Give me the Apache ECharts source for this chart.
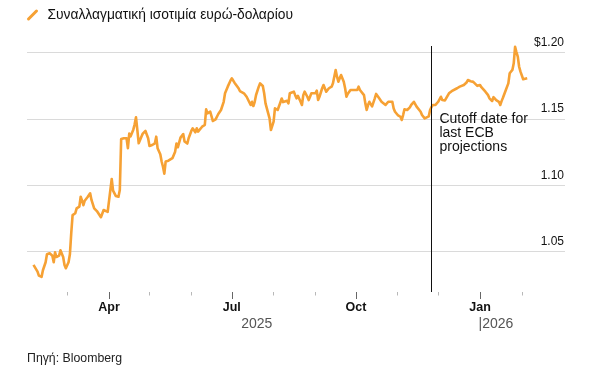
<!DOCTYPE html>
<html><head><meta charset="utf-8">
<script src="https://cdn.jsdelivr.net/npm/echarts@6/dist/echarts.min.js"></script>
<style>html,body{margin:0;padding:0;background:#fff}#c{width:612px;height:370px}</style>
</head><body><div id="c"></div>
<script>
const seriesName = 'Συναλλαγματική ισοτιμία ευρώ-δολαρίου';
const sourceText = 'Πηγή: Bloomberg';
// days since 1 Jan 2025
const days = [34,35,37,38,40,41,43,44,46,48, 49,50,51,53,54,56,57,58,60,61, 62,63,65,66,67,68,69,70,71,72, 74,76,77,79,81,82,84,86,87,89, 90,92,93,95,97,98,99,101,103,104, 105,106,108,109,110,111,112,114,115,117, 119,120,122,124,125,126,128,129,130,131, 132,134,135,137,139,140,141,143,145,146, 148,149,150,151,152,154,155,156,157,159, 161,162,163,165,167,168,169,171,173,175, 176,178,180,181,183,184,186,187,188,190, 192,193,195,196,197,198,199,201,202,204, 205,206,208,209,210,211,212,213,214,215, 217,218,219,220,222,223,224,225,227,228, 229,230,232,233,234,235,237,238,239,240, 241,243,244,245,246,248,249,250,251,253, 254,255,256,258,259,260,261,262,264,265, 266,267,269,270,271,272,274,275,276,277, 279,280,281,282,283,285,286,287,288,290, 291,292,293,295,296,297,298,300,301,302, 304,306,307,308,309,311,312,313,314,316, 317,318,319,321,322,323,324,325,327,328, 329,330,332,333,334,336,337,339,340,342, 344,345,348,350,353,355,356,358,360,361, 363,365,366,367,369,370,371,372,374,375, 377,379,380,381,382,384,385,386,387,389, 390,391,392,393,394,395,396,397,398,400];
const rates = [1.040,1.0405,1.035,1.032,1.031,1.036,1.042,1.048,1.0488,1.047,
1.042,1.0495,1.046,1.047,1.051,1.046,1.040,1.0375,1.042,1.048,
1.064,1.0776,1.079,1.0827,1.0834,1.084,1.0914,1.0884,1.085,1.0884,
1.091,1.094,1.089,1.0827,1.0806,1.0797,1.076,1.0814,1.082,1.080,
1.079,1.1048,1.096,1.092,1.0914,1.0965,1.135,1.1355,1.1355,1.128,
1.139,1.137,1.142,1.146,1.1513,1.1417,1.1317,1.1367,1.139,1.141,
1.1355,1.1297,1.1304,1.1317,1.1367,1.128,1.1235,1.118,1.114,1.1088,
1.118,1.1186,1.1172,1.1205,1.1254,1.1315,1.1287,1.136,1.1387,1.133,
1.1315,1.1355,1.1367,1.141,1.143,1.140,1.143,1.1405,1.141,1.1442,
1.1455,1.1573,1.1543,1.1555,1.1485,1.148,1.1498,1.1538,1.1568,1.163,
1.1694,1.1744,1.1789,1.1807,1.1774,1.1781,1.1732,1.1711,1.1724,1.1694,
1.1668,1.1656,1.1606,1.163,1.1598,1.163,1.1681,1.1744,1.1769,1.1749,
1.1694,1.1618,1.1543,1.1505,1.1417,1.1404,1.148,1.158,1.1573,1.1568,
1.1625,1.1655,1.1628,1.1635,1.1638,1.1618,1.1694,1.168,1.1706,1.168,
1.1656,1.1675,1.163,1.1606,1.168,1.1706,1.1668,1.1643,1.1668,1.1694,
1.1706,1.1694,1.1714,1.1643,1.1668,1.1732,1.1756,1.1763,1.1706,1.1732,
1.1744,1.1744,1.1769,1.187,1.1819,1.1781,1.1807,1.1832,1.1781,1.1732,
1.1668,1.169,1.1719,1.1706,1.1719,1.1732,1.1719,1.1744,1.1719,1.1725,
1.168,1.1618,1.1568,1.1605,1.163,1.1595,1.1585,1.1656,1.1689,1.166,
1.165,1.163,1.1622,1.1606,1.1618,1.163,1.1643,1.163,1.158,1.1555,
1.153,1.1517,1.1493,1.153,1.1573,1.1568,1.158,1.1588,1.1606,1.163,
1.1618,1.1593,1.158,1.1555,1.153,1.1517,1.1505,1.1512,1.152,1.1568,
1.159,1.1606,1.1606,1.1618,1.163,1.1668,1.1643,1.164,1.1635,1.1694,
1.171,1.1719,1.1732,1.1744,1.1756,1.1775,1.1794,1.1785,1.178,1.1769,
1.175,1.1756,1.174,1.1732,1.1706,1.1705,1.168,1.1656,1.1636,1.1665,
1.1643,1.163,1.1606,1.1635,1.166,1.1715,1.170,1.1769,1.1845,1.187,
1.192,1.2045,1.2005,1.197,1.1894,1.1857,1.1845,1.180,1.1815,1.1807];
const monthTicks = ['2025-03-01','2025-04-01','2025-05-01','2025-06-01','2025-07-01','2025-08-01','2025-09-01','2025-10-01','2025-11-01','2025-12-01','2026-01-01','2026-02-01'];
const quarterTicks = ['2025-04-01','2025-07-01','2025-10-01','2026-01-01'];
const quarterLabels = ['Apr','Jul','Oct','Jan'];
const yearLabels = ['2025','|2026'];
const yTickValues = [1.05,1.10,1.15,1.20];
const yTickLabels = ['1.05','1.10','1.15','$1.20'];
const cutoffDate = '2025-11-26';
const annotation = ['Cutoff date for','last ECB','projections'];

const DAY = 86400000;
const BASE = Date.UTC(2025,0,1);
function ts(s){const p=s.split('-').map(Number);return Date.UTC(p[0],p[1]-1,p[2]);}
const data = days.map((d,i)=>[BASE + d*DAY, rates[i]]);
const xMin = BASE + 29.2*DAY, xMax = BASE + 428*DAY;
const FONT = "'Liberation Sans', Arial, sans-serif";
const ORANGE = '#f6a134';
const AXIS_OFFSET = -26;

const chart = echarts.init(document.getElementById('c'), null, {renderer:'canvas'});
const qMap = {}; quarterTicks.forEach((q,i)=>{qMap[ts(q)] = quarterLabels[i];});
chart.setOption({
  animation:false,
  textStyle:{fontFamily:FONT},
  title:{text:sourceText, left:27, top:353, padding:0, textStyle:{fontSize:12.3, fontWeight:'normal', color:'#222', fontFamily:FONT}},
  legend:{left:27, top:8, padding:0, itemWidth:12, itemHeight:11,
    icon:'path://M0,9.5 L8.5,1 A1.6,1.6 0 0 1 10.8,3.3 L2.3,11.8 A1.6,1.6 0 0 1 0,9.5 Z',
    textStyle:{fontSize:13.8, color:'#111', padding:[0,0,0,4], fontFamily:FONT}, data:[seriesName]},
  grid:{left:27, right:47, top:52.7, height:265.3},
  xAxis:[
    {type:'value', min:xMin, max:xMax, position:'bottom', offset:AXIS_OFFSET,
     axisLine:{show:false}, splitLine:{show:false},
     axisTick:{show:true, length:3.5, lineStyle:{color:'#b8b8b8', width:1}, customValues:monthTicks.map(ts)},
     axisLabel:{show:false}},
    {type:'value', min:xMin, max:xMax, position:'bottom', offset:AXIS_OFFSET,
     axisLine:{show:false}, splitLine:{show:false},
     axisTick:{show:true, length:7, lineStyle:{color:'#666', width:1}, customValues:quarterTicks.map(ts)},
     axisLabel:{show:true, customValues:quarterTicks.map(ts), margin:9, fontSize:12.5, fontWeight:'bold', color:'#111', fontFamily:FONT,
       formatter:function(v){return qMap[v]||'';}}}
  ],
  yAxis:{type:'value', position:'right', min:1.0, max:1.2, interval:0.05,
    axisLine:{show:false}, axisTick:{show:false},
    splitLine:{show:true, showMinLine:false, lineStyle:{color:'#dadada', width:1}},
    axisLabel:{inside:true, showMinLabel:false, margin:1, verticalAlign:'bottom', padding:[0,0,4,0], fontSize:12, color:'#111', fontFamily:FONT,
      formatter:function(v){for(let i=0;i<yTickValues.length;i++){if(Math.abs(v-yTickValues[i])<1e-6)return yTickLabels[i];}return '';}}},
  series:[{type:'line', name:seriesName, data:data, xAxisIndex:0, yAxisIndex:0, showSymbol:false, symbol:'none', clip:false,
    lineStyle:{color:ORANGE, width:2.6, join:'round'}, itemStyle:{color:ORANGE}}]
});

const px = t => chart.convertToPixel({xAxisIndex:0}, t);
const axisY = chart.convertToPixel({yAxisIndex:0}, 1.0) + AXIS_OFFSET;
const cx = px(ts(cutoffDate));
const jan = px(ts('2026-01-01'));
const firstX = px(data[0][0]);
chart.setOption({graphic:[
  {type:'line', shape:{x1:Math.round(cx)+0.5, y1:46, x2:Math.round(cx)+0.5, y2:axisY}, style:{stroke:'#111', lineWidth:1}, silent:true, z:10},
  {type:'text', x:cx+8, y:112, style:{text:annotation.join('\n'), font:'14px '+FONT, lineHeight:14, fill:'#111'}, z:10},
  {type:'text', x:(firstX+jan)/2, y:324, style:{text:yearLabels[0], font:'14px '+FONT, fill:'#555', align:'center', verticalAlign:'middle'}},
  {type:'text', x:jan-1.5, y:324, style:{text:yearLabels[1], font:'14px '+FONT, fill:'#555', align:'left', verticalAlign:'middle'}}
]});
</script></body></html>
